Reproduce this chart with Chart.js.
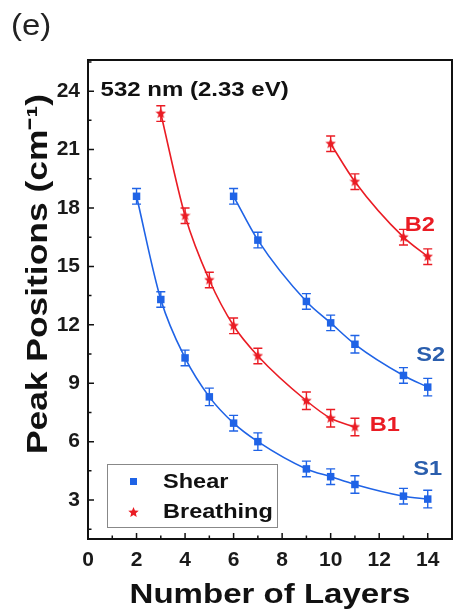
<!DOCTYPE html>
<html>
<head>
<meta charset="utf-8">
<script src="https://cdn.jsdelivr.net/npm/chart.js@4/dist/chart.umd.min.js"></script>
<style>
  html, body { margin: 0; padding: 0; background: #fff; }
  #wrap { position: relative; width: 462px; height: 612px; }
</style>
</head>
<body>
<div id="wrap"><canvas id="c" width="462" height="612"></canvas></div>
<script>
// ---- data ----
const s1Layers = [2, 3, 4, 5, 6, 7, 9, 10, 11, 13, 14];
const s1Peaks  = [18.6, 13.3, 10.3, 8.3, 6.95, 6.0, 4.6, 4.2, 3.8, 3.2, 3.05];
const s1Err    = [0.4, 0.4, 0.4, 0.45, 0.4, 0.45, 0.4, 0.4, 0.45, 0.4, 0.45];

const s2Layers = [6, 7, 9, 10, 11, 13, 14];
const s2Peaks  = [18.6, 16.35, 13.2, 12.1, 11.0, 9.4, 8.8];
const s2Err    = [0.4, 0.4, 0.4, 0.4, 0.45, 0.4, 0.45];

const b1Layers = [3, 4, 5, 6, 7, 9, 10, 11];
const b1Peaks  = [22.85, 17.6, 14.3, 11.95, 10.4, 8.1, 7.2, 6.75];
const b1Err    = [0.4, 0.4, 0.4, 0.4, 0.4, 0.45, 0.45, 0.45];

const b2Layers = [10, 11, 13, 14];
const b2Peaks  = [21.3, 19.35, 16.5, 15.5];
const b2Err    = [0.4, 0.4, 0.4, 0.4];

const xTicks = [0, 2, 4, 6, 8, 10, 12, 14];
const yTicks = [3, 6, 9, 12, 15, 18, 21, 24];
const legendLabels = ['Shear', 'Breathing'];
const seriesNames = ['S1', 'S2', 'B1', 'B2'];
const panelLabel = '(e)';
const laserNote = '532 nm (2.33 eV)';
const xTitle = 'Number of Layers';
const yTitle = 'Peak Positions (cm\u207B\u00B9)';

// ---- styling ----
const BLUE = '#1f63e6';
const BLUE_TXT = '#2a5ead';
const RED = '#ea1c24';
const FONT = '"Liberation Sans", Arial, Helvetica, sans-serif';

function makeStar(color, size) {
  const c = document.createElement('canvas');
  c.width = size; c.height = size;
  const g = c.getContext('2d');
  const cx = size / 2, cy = size / 2, R = size / 2, r = R * 0.45;
  g.beginPath();
  for (let i = 0; i < 10; i++) {
    const ang = -Math.PI / 2 + i * Math.PI / 5;
    const rad = i % 2 === 0 ? R : r;
    const px = cx + rad * Math.cos(ang), py = cy + rad * Math.sin(ang);
    if (i === 0) g.moveTo(px, py); else g.lineTo(px, py);
  }
  g.closePath();
  g.fillStyle = color;
  g.fill();
  return c;
}
const starImg = makeStar(RED, 11);

function pts(xs, ys) { return xs.map((x, i) => ({ x: x, y: ys[i] })); }

function ds(label, xs, ys, errs, color, kind) {
  return {
    label: label,
    data: pts(xs, ys),
    errs: errs,
    kind: kind,
    showLine: true,
    borderColor: color,
    backgroundColor: color,
    borderWidth: 1.6,
    cubicInterpolationMode: 'monotone',
    pointStyle: kind === 'shear' ? 'rect' : starImg,
    pointRadius: 5.3,
    pointBackgroundColor: color,
    pointBorderColor: color,
    pointBorderWidth: 0,
    errColor: color
  };
}

const datasets = [
  ds(seriesNames[0], s1Layers, s1Peaks, s1Err, BLUE, 'shear'),
  ds(seriesNames[1], s2Layers, s2Peaks, s2Err, BLUE, 'shear'),
  ds(seriesNames[2], b1Layers, b1Peaks, b1Err, RED, 'breath'),
  ds(seriesNames[3], b2Layers, b2Peaks, b2Err, RED, 'breath')
];

// error bars drawn through the chart scales
const errorBars = {
  id: 'errorBars',
  beforeDatasetsDraw(chart) {
    const { ctx, scales: { x, y } } = chart;
    ctx.save();
    chart.data.datasets.forEach(d => {
      ctx.strokeStyle = d.errColor;
      ctx.lineWidth = 1.4;
      d.data.forEach((p, i) => {
        const px = x.getPixelForValue(p.x);
        const top = y.getPixelForValue(p.y + d.errs[i]);
        const bot = y.getPixelForValue(p.y - d.errs[i]);
        ctx.beginPath();
        ctx.moveTo(px, top); ctx.lineTo(px, bot);
        ctx.moveTo(px - 4.5, top); ctx.lineTo(px + 4.5, top);
        ctx.moveTo(px - 4.5, bot); ctx.lineTo(px + 4.5, bot);
        ctx.stroke();
      });
    });
    ctx.restore();
  }
};

// text drawn with a slight horizontal stretch (reference glyphs are wide)
function wideText(ctx, text, x, y, sx, align) {
  ctx.save();
  ctx.translate(x, y);
  ctx.scale(sx, 1);
  ctx.textAlign = align;
  ctx.fillText(text, 0, 0);
  ctx.restore();
}

// frame, inward ticks, titles, annotations, legend
const decor = {
  id: 'decor',
  afterDraw(chart) {
    const { ctx, chartArea: a, scales: { x, y } } = chart;
    ctx.save();
    // ticks
    ctx.strokeStyle = '#111';
    ctx.lineWidth = 1.5;
    ctx.beginPath();
    for (let v = x.min; v <= x.max; v += 1) {
      const px = x.getPixelForValue(v);
      const len = (v % 2 === 0) ? 6 : 3.5;
      ctx.moveTo(px, a.bottom); ctx.lineTo(px, a.bottom - len);
    }
    for (let v = 1.5; v <= y.max; v += 1.5) {
      const py = y.getPixelForValue(v);
      const len = (Math.abs(v % 3) < 1e-6) ? 6 : 3.5;
      ctx.moveTo(a.left, py); ctx.lineTo(a.left + len, py);
    }
    ctx.stroke();
    // frame
    ctx.lineWidth = 2;
    ctx.strokeStyle = '#111';
    ctx.strokeRect(a.left, a.top, a.right - a.left, a.bottom - a.top);

    // panel label
    ctx.fillStyle = '#222';
    ctx.font = '30px ' + FONT;
    ctx.textBaseline = 'alphabetic';
    wideText(ctx, panelLabel, 11, 35, 1.1, 'left');

    // laser note
    ctx.font = 'bold 20px ' + FONT;
    ctx.fillStyle = '#111';
    ctx.textBaseline = 'middle';
    wideText(ctx, laserNote, x.getPixelForValue(0.52), y.getPixelForValue(24.05), 1.2, 'left');

    // x title
    ctx.font = 'bold 28px ' + FONT;
    ctx.textBaseline = 'alphabetic';
    wideText(ctx, xTitle, (a.left + a.right) / 2, 603, 1.18, 'center');

    // y title
    ctx.save();
    ctx.translate(47, 274);
    ctx.rotate(-Math.PI / 2);
    ctx.font = 'bold 29px ' + FONT;
    ctx.textBaseline = 'alphabetic';
    wideText(ctx, yTitle, 0, 0, 1.22, 'center');
    ctx.restore();

    // series labels
    const labs = [
      { t: seriesNames[3], xv: 13.67, yv: 17.1, c: RED },
      { t: seriesNames[1], xv: 14.12, yv: 10.45, c: BLUE_TXT },
      { t: seriesNames[2], xv: 12.23, yv: 6.85, c: RED },
      { t: seriesNames[0], xv: 14.0, yv: 4.55, c: BLUE_TXT }
    ];
    ctx.font = 'bold 20px ' + FONT;
    ctx.textBaseline = 'middle';
    labs.forEach(l => {
      ctx.fillStyle = l.c;
      wideText(ctx, l.t, x.getPixelForValue(l.xv), y.getPixelForValue(l.yv), 1.18, 'center');
    });

    // legend
    const L = 107, T = 464, W = 170, H = 63;
    ctx.fillStyle = '#fff';
    ctx.fillRect(L, T, W, H);
    ctx.strokeStyle = '#888';
    ctx.lineWidth = 1;
    ctx.strokeRect(L + 0.5, T + 0.5, W, H);
    ctx.fillStyle = BLUE;
    ctx.fillRect(L + 23, T + 14, 7, 7);
    ctx.drawImage(starImg, L + 21, T + 43, 11, 11);
    ctx.fillStyle = '#111';
    ctx.font = 'bold 21px ' + FONT;
    ctx.textBaseline = 'middle';
    wideText(ctx, legendLabels[0], L + 56, T + 18, 1.12, 'left');
    wideText(ctx, legendLabels[1], L + 56, T + 48, 1.12, 'left');
    ctx.restore();
  }
};

new Chart(document.getElementById('c'), {
  type: 'scatter',
  data: { datasets: datasets },
  options: {
    responsive: false,
    animation: false,
    layout: { padding: { top: 60, right: 10, left: 0, bottom: 0 } },
    plugins: { legend: { display: false }, tooltip: { enabled: false } },
    scales: {
      x: {
        type: 'linear', min: 0, max: 15, position: 'bottom',
        grid: { display: false, drawTicks: false },
        border: { display: false },
        ticks: { color: '#1a1a1a', font: { family: FONT, size: 21, weight: 'bold' }, padding: 9, autoSkip: false, maxRotation: 0 },
        afterBuildTicks: sc => { sc.ticks = xTicks.map(v => ({ value: v })); },
        afterFit: sc => { sc.height = 73; }
      },
      y: {
        type: 'linear', min: 1, max: 25.6, position: 'left',
        grid: { display: false, drawTicks: false },
        border: { display: false },
        ticks: { color: '#1a1a1a', font: { family: FONT, size: 21, weight: 'bold' }, padding: 8, autoSkip: false },
        afterBuildTicks: sc => { sc.ticks = yTicks.map(v => ({ value: v })); },
        afterFit: sc => { sc.width = 88; }
      }
    }
  },
  plugins: [errorBars, decor]
});
</script>
</body>
</html>
